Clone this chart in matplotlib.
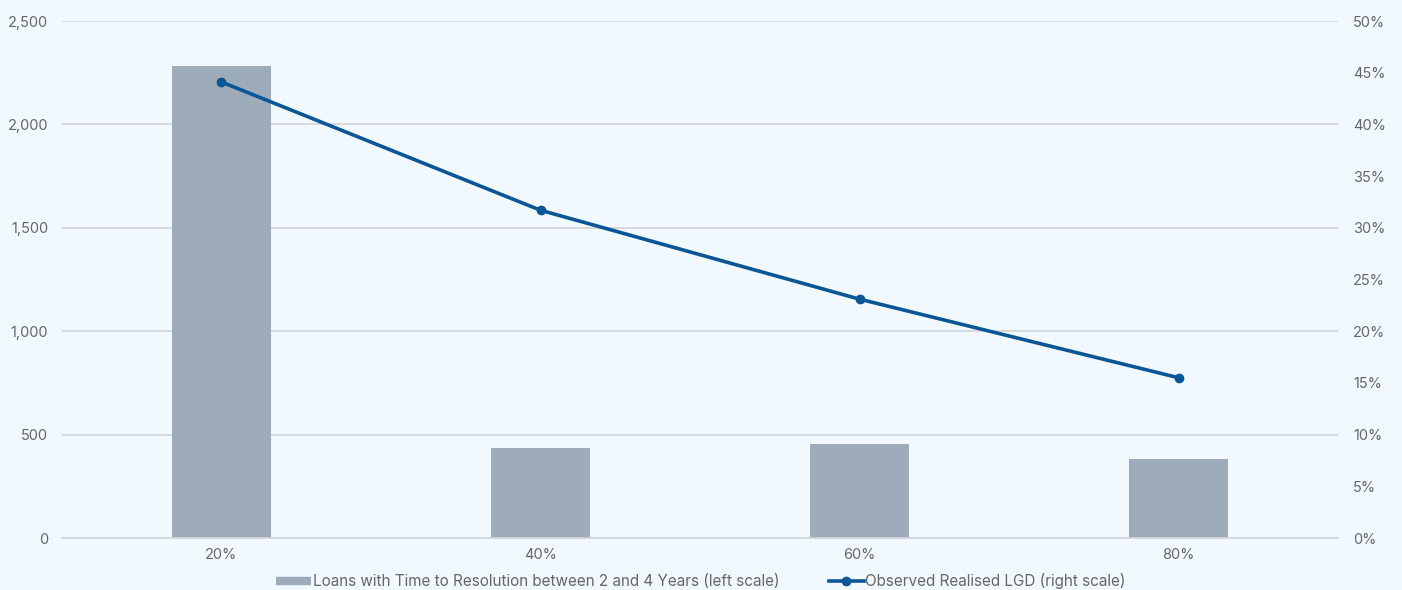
import numpy as np
import matplotlib.pyplot as plt
from matplotlib.lines import Line2D
from matplotlib.ticker import FuncFormatter

# LTV buckets and observed values
ltv_buckets = ['20%', '40%', '60%', '80%']
loan_counts = [2282, 435, 455, 382]
realised_lgd = [44.1, 31.7, 23.1, 15.5]

bg = '#F2F9FE'
bar_col = '#9DABBB'
line_col = '#0B5697'
text_col = '#666666'
grid_col = '#D3D6DA'

plt.rcParams['font.family'] = ['Inter', 'DejaVu Sans']

fig = plt.figure(figsize=(14.02, 5.90), dpi=100, facecolor=bg)
ax = fig.add_axes([0.0442, 0.0881, 0.9102, 0.8763])
ax.set_facecolor(bg)
ax2 = ax.twinx()

x = np.arange(len(ltv_buckets))
ax.bar(x, loan_counts, width=0.313, color=bar_col, zorder=2)
ax2.plot(x, realised_lgd, color=line_col, lw=2.6, marker='o', ms=6, zorder=3)

ax.set_xlim(-0.5, 3.5)
ax.set_ylim(0, 2500)
ax2.set_ylim(0, 50)
ax.set_yticks(np.arange(0, 2501, 500))
ax2.set_yticks(np.arange(0, 51, 5))
ax.yaxis.set_major_formatter(FuncFormatter(lambda v, p: f'{v:,.0f}'))
ax2.yaxis.set_major_formatter(FuncFormatter(lambda v, p: f'{v:.0f}%'))
ax.set_xticks(x)
ax.set_xticklabels(ltv_buckets)

ax.grid(axis='y', color=grid_col, lw=1.3, zorder=0)
ax.set_axisbelow(True)
for a in (ax, ax2):
    for s in a.spines.values():
        s.set_visible(False)
    a.tick_params(length=0, labelsize=10.5, colors=text_col)
ax.spines['bottom'].set_visible(True)
ax.spines['bottom'].set_color(grid_col)
ax.spines['bottom'].set_linewidth(1.3)
ax.tick_params(axis='y', pad=10)
ax.tick_params(axis='x', pad=7)
ax2.tick_params(axis='y', pad=11)

handles = [
    Line2D([0], [0], color=bar_col, lw=6, solid_capstyle='butt'),
    Line2D([0], [0], color=line_col, lw=2.6, marker='o', ms=6),
]
labels = ['Loans with Time to Resolution between 2 and 4 Years (left scale)',
          'Observed Realised LGD (right scale)']
fig.legend(handles, labels, loc='lower center', bbox_to_anchor=(0.5, -0.022),
           ncol=2, frameon=False, fontsize=11, labelcolor=text_col,
           handlelength=2.3, handletextpad=0.1, columnspacing=3.2)

fig.savefig('out.png', dpi=100, facecolor=bg)
